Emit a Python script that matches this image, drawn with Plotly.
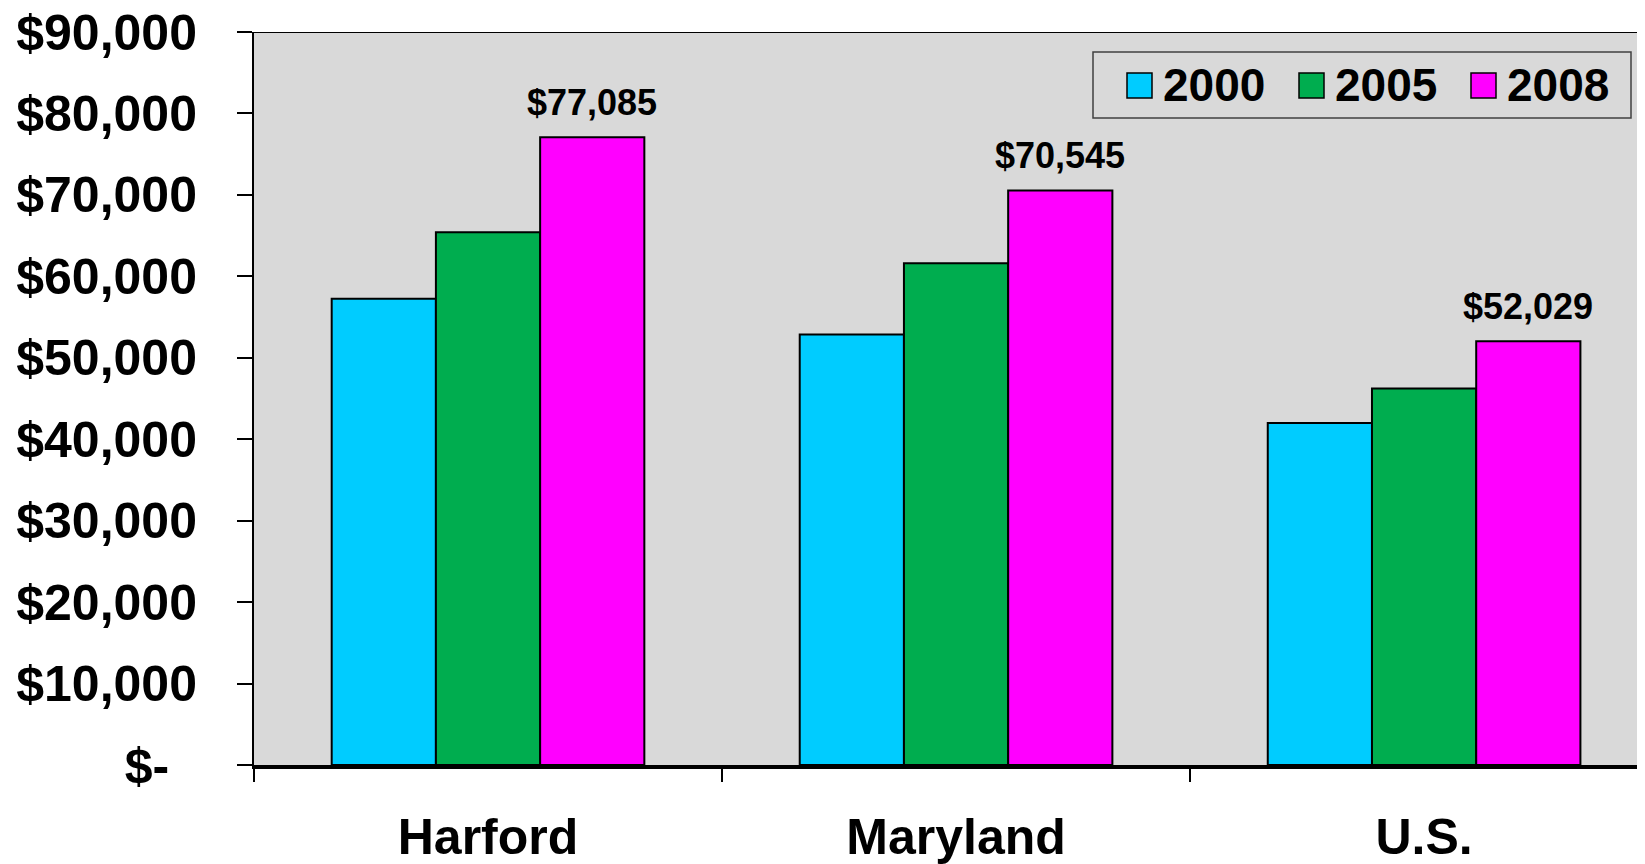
import plotly.graph_objects as go

categories = ["Harford", "Maryland", "U.S."]
years = ["2000", "2005", "2008"]
income_2000 = [57234, 52868, 41990]
income_2005 = [65410, 61592, 46242]
income_2008 = [77085, 70545, 52029]
series = [income_2000, income_2005, income_2008]
colors = ["#00CCFF", "#00AD4F", "#FF00FF"]

ytick_vals = [0, 10000, 20000, 30000, 40000, 50000, 60000, 70000, 80000, 90000]
ytick_text = ["$-\u00a0\u00a0", "$10,000", "$20,000", "$30,000", "$40,000", "$50,000",
              "$60,000", "$70,000", "$80,000", "$90,000"]

FONT = "Arial, Liberation Sans, sans-serif"
BARGAP = 0.332

# page body has an 8px margin; figure is sized/placed to compensate
W, H = 1637, 856
L, T, B = 246, 24, 99
PW, PH = W - L, H - T - B

fig = go.Figure()
for yr, vals, col in zip(years, series, colors):
    fig.add_trace(go.Bar(
        x=categories, y=vals, name=yr,
        marker=dict(color=col, line=dict(color="black", width=2)),
        showlegend=False,
    ))

# value labels over the 2008 bars
offset = (1 - BARGAP) / 3
for i, v in enumerate(income_2008):
    fig.add_annotation(
        xref="x", yref="y", x=i + offset, y=v,
        xanchor="center", yanchor="bottom", yshift=12, showarrow=False,
        text=f"${v:,.0f}",
        font=dict(family=FONT, size=36, color="black", weight="bold"),
    )

fig.update_layout(
    width=W, height=H,
    margin=dict(l=L, r=0, t=T, b=B, autoexpand=False),
    paper_bgcolor="white", plot_bgcolor="#D9D9D9",
    barmode="group", bargap=BARGAP, bargroupgap=0,
    font=dict(family=FONT, color="black"),
)
fig.update_yaxes(
    range=[0, 90000], tickvals=ytick_vals, ticktext=ytick_text,
    showgrid=False, zeroline=False, automargin=False,
    showline=True, linecolor="black", linewidth=2,
    ticks="outside", ticklen=15, tickwidth=2, tickcolor="black",
    ticklabelstandoff=30, ticklabeloverflow="allow",
    tickfont=dict(family=FONT, size=50, color="black", weight="bold"),
)
fig.update_xaxes(
    range=[-0.5, 2.472],
    showgrid=False, zeroline=False, automargin=False,
    showline=True, linecolor="black", linewidth=4,
    ticks="outside", tickson="boundaries", ticklen=13, tickwidth=2, tickcolor="black",
    ticklabelstandoff=25, ticklabeloverflow="allow",
    tickfont=dict(family=FONT, size=50, color="black", weight="bold"),
)

# top border of plot area
fig.add_shape(type="line", xref="paper", yref="y", x0=-15 / PW, x1=1, y0=90000, y1=90000,
              line=dict(color="black", width=2))


def px_x(p):
    return (p - 8 - L) / PW


def px_y(p):
    return (T + PH - (p - 8)) / PH


# legend box (manual, to match large square markers)
fig.add_shape(type="rect", xref="paper", yref="paper",
              x0=px_x(1093), x1=px_x(1631), y0=px_y(118), y1=px_y(52),
              line=dict(color="#404040", width=1.5), fillcolor="#D9D9D9")
leg_x = [1127, 1299, 1471]
for yr, col, px in zip(years, colors, leg_x):
    fig.add_shape(type="rect", xref="paper", yref="paper",
                  x0=px_x(px), x1=px_x(px + 25), y0=px_y(98), y1=px_y(73),
                  line=dict(color="black", width=1.5), fillcolor=col)
    fig.add_annotation(xref="paper", yref="paper",
                       x=px_x(px + 34), y=px_y(85),
                       xanchor="left", yanchor="middle", showarrow=False,
                       text=yr, font=dict(family=FONT, size=46, color="black", weight="bold"))

fig.write_html("out.html")
